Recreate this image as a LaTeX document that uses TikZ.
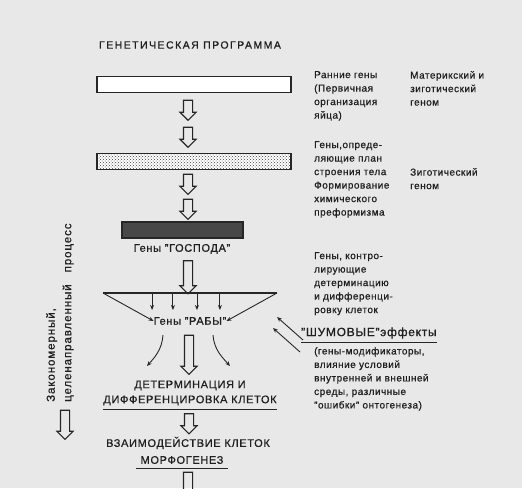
\documentclass[tikz,border=0pt]{standalone}
\usepackage{fontspec}
\setmainfont{Liberation Sans}[FakeBold=0.7]
\usetikzlibrary{arrows.meta,positioning,calc,shapes.arrows,patterns}

\begin{document}
\begin{tikzpicture}[
    x=1pt, y=-1pt,
    ink/.style={draw=black!85, line width=1.1pt},
    bar/.style={ink, minimum height=16pt, inner sep=0pt},
    holarrow/.style={single arrow, ink, shape border rotate=270, inner sep=4pt,
        single arrow head extend=3.5pt, minimum height=20pt},
    lbl/.style={font=\fontsize{11}{15}\selectfont\addfontfeatures{LetterSpace=6},
        inner sep=0pt, text=black!88},
    note/.style={font=\fontsize{10}{13.5}\selectfont\addfontfeatures{LetterSpace=5},
        align=left, inner sep=0pt, anchor=north west, text=black!88},
    arr/.style={-{Stealth[length=5pt,width=4pt]}, draw=black!85, line width=0.9pt}
]
    \useasboundingbox[fill=black!9] (0,0) rectangle (522,488);
    \clip (0,0) rectangle (522,488);

    % main column
    \node[lbl, font=\fontsize{10.5}{12}\selectfont\addfontfeatures{LetterSpace=14}]
        (title) at (190,45) {ГЕНЕТИЧЕСКАЯ ПРОГРАММА};
    \node[bar, fill=white, minimum width=194pt] (early) at (194,84.5) {};
    \node[holarrow] (a1) at (188,108) {};
    \node[holarrow] (a2) at (188,135) {};
    \node[bar, preaction={fill=white}, pattern=crosshatch dots, pattern color=black!75,
        minimum width=194pt] (plan) at (194,161.5) {};
    \node[holarrow] (a3) at (188,182) {};
    \node[holarrow] (a4) at (188,207) {};
    \node[bar, fill=black!72, minimum width=121pt] (master) at (182.5,230) {};
    \node[lbl] (gospoda) at (182,249) {Гены "ГОСПОДА"};
    \node[holarrow, minimum height=33pt] (a5) at (188,275) {};

    \coordinate (tl) at (103,293);
    \coordinate (tr) at (277,293);
    \draw[ink] (tl) -- (tr);
    \node[lbl] (raby) at (190,321) {Гены "РАБЫ"};
    \draw[arr] (tl) -- (raby.west);
    \draw[arr] (tr) -- (raby.east);
    \foreach \t in {0.282,0.402,0.540,0.672}
        \draw[arr] ($(tl)!\t!(tr)$) -- ++(0,17);

    \node[holarrow, minimum height=39pt] (a6) at (189,352.5) {};
    \coordinate (cl) at ($(raby.south)+(-27,10)$);
    \coordinate (cr) at ($(raby.south)+(23,10)$);
    \draw[arr] (cl) .. controls +(-1,15) and +(7,-8) .. +(-16,31);
    \draw[arr] (cr) .. controls +(1,15) and +(-7,-8) .. +(17,31);

    \node[lbl, align=center] (det) at (190,393) {ДЕТЕРМИНАЦИЯ И\\ДИФФЕРЕНЦИРОВКА КЛЕТОК};
    \draw[ink] ($(det.south west)+(0,4)$) -- ($(det.south east)+(0,4)$);
    \node[holarrow] (a7) at (189,421.5) {};
    \node[lbl] (vzaim) at (188,443) {ВЗАИМОДЕЙСТВИЕ КЛЕТОК};
    \node[lbl] (morf) at (182,460) {МОРФОГЕНЕЗ};
    \draw[ink] ($(morf.south west)+(-4,4)$) -- ($(morf.south east)+(4,4)$);
    \node[holarrow, minimum height=26pt] (a8) at (188,483) {};

    % left side
    \node[lbl, rotate=90, align=left, anchor=north west,
        font=\fontsize{11.5}{16.5}\selectfont\addfontfeatures{LetterSpace=8}] (zakon) at (46,402)
        {Закономерный,\\целенаправленный\hspace{12pt}процесс};
    \node[holarrow, minimum height=29pt] (a9) at (65,422.5) {};

    % right side
    \node[note] (early1) at (314,71) {Ранние гены\\(Первичная\\организация\\яйца)};
    \node[note] (early2) at (410,71) {Материкский и\\зиготический\\геном};
    \node[note] (plan1) at (314,141) {Гены,опреде-\\ляющие план\\строения тела\\Формирование\\химического\\преформизма};
    \node[note] (plan2) at (410,168) {Зиготический\\геном};
    \node[note] (ctrl) at (314,252) {Гены, контро-\\лирующие\\детерминацию\\и дифференци-\\ровку клеток};
    \node[lbl, anchor=west, font=\fontsize{12}{14}\selectfont\addfontfeatures{LetterSpace=6}]
        (noise) at (301,333) {"ШУМОВЫЕ"эффекты};
    \draw[ink] ($(noise.south west)+(0,4)$) -- ($(noise.south east)+(0,4)$);
    \node[note] (mods) at (314,347) {(гены-модификаторы,\\влияние условий\\внутренней и внешней\\среды, различные\\"ошибки" онтогенеза)};
    \draw[arr] ($(noise.west)+(2,7)$) -- ++(-26,-23);
    \draw[arr] ($(noise.west)+(-1,19)$) -- ++(-27,-24);
\end{tikzpicture}
\end{document}
